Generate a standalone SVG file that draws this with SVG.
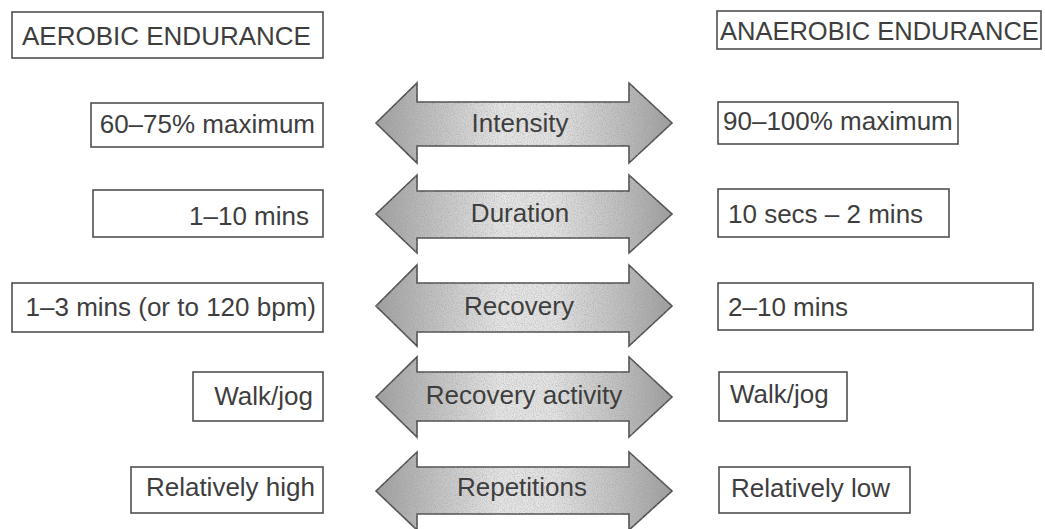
<svg xmlns="http://www.w3.org/2000/svg" width="1045" height="529" viewBox="0 0 1045 529">
<defs>
<style>
.box{fill:#fff;stroke:#505050;stroke-width:1.6}
.t{font-family:"Liberation Sans",Arial,Helvetica,sans-serif;font-size:26px;fill:#3e3e3e}
.h{font-size:26px}
.h2{font-size:25.5px}
.arr{fill:url(#ag);stroke:#4a4a4a;stroke-width:1.6;stroke-linejoin:miter;filter:url(#grain)}
.m{text-anchor:middle}
.e{text-anchor:end}
</style>
<linearGradient id="ag" x1="0" y1="0" x2="1" y2="0">
<stop offset="0" stop-color="#a0a0a0"/>
<stop offset="0.2" stop-color="#c2c2c2"/>
<stop offset="0.42" stop-color="#e6e6e6"/>
<stop offset="0.6" stop-color="#e4e4e4"/>
<stop offset="0.82" stop-color="#c0c0c0"/>
<stop offset="1" stop-color="#9e9e9e"/>
</linearGradient>
<filter id="grain" x="-0.02" y="-0.05" width="1.04" height="1.1">
<feTurbulence type="fractalNoise" baseFrequency="0.9" numOctaves="2" seed="4" result="n"/>
<feColorMatrix in="n" type="matrix" values="0 0 0 0 0.3  0 0 0 0 0.3  0 0 0 0 0.3  1.1 0 0 0 -0.42" result="dots"/>
<feComposite in="dots" in2="SourceGraphic" operator="in" result="d2"/>
<feMerge><feMergeNode in="SourceGraphic"/><feMergeNode in="d2"/></feMerge>
</filter>
</defs>

<g id="connectors">
<path class="arr" d="M376,123 L417,83 L417,102 L629,102 L629,83 L672,123 L629,163 L629,146 L417,146 L417,163 Z"/>
<path class="arr" d="M376,214 L417,175 L417,191 L629,191 L629,175 L672,214 L629,253 L629,238 L417,238 L417,253 Z"/>
<path class="arr" d="M376,306 L417,265 L417,283 L629,283 L629,265 L672,306 L629,346 L629,332 L417,332 L417,346 Z"/>
<path class="arr" d="M376,397 L417,357 L417,372 L629,372 L629,357 L672,397 L629,437 L629,421 L417,421 L417,437 Z"/>
<path class="arr" d="M376,491 L417,452 L417,467 L629,467 L629,452 L672,491 L629,530 L629,514 L417,514 L417,530 Z"/>
<text class="t m" x="520" y="132">Intensity</text>
<text class="t m" x="520" y="222">Duration</text>
<text class="t m" x="519" y="315">Recovery</text>
<text class="t m" x="524" y="404">Recovery activity</text>
<text class="t m" x="522" y="496">Repetitions</text>
</g>

<g id="aerobic-header">
<rect class="box" x="12" y="12" width="311" height="46"/>
<text class="t h" x="22" y="45">AEROBIC ENDURANCE</text>
</g>
<g id="anaerobic-header">
<rect class="box" x="717" y="11" width="324" height="38"/>
<text class="t h2" x="720" y="40">ANAEROBIC ENDURANCE</text>
</g>

<g id="aer-intensity">
<rect class="box" x="91" y="103" width="232" height="44"/>
<text class="t e" x="315" y="133">60–75% maximum</text>
</g>
<g id="aer-duration">
<rect class="box" x="93" y="190" width="230" height="47"/>
<text class="t e" x="309" y="225">1–10 mins</text>
</g>
<g id="aer-recovery">
<rect class="box" x="12" y="283" width="311" height="49"/>
<text class="t e" x="316" y="316">1–3 mins (or to 120 bpm)</text>
</g>
<g id="aer-activity">
<rect class="box" x="193" y="372" width="130" height="49"/>
<text class="t e" x="313" y="405">Walk/jog</text>
</g>
<g id="aer-reps">
<rect class="box" x="131" y="467" width="192" height="46"/>
<text class="t e" x="315" y="496">Relatively high</text>
</g>

<g id="ana-intensity">
<rect class="box" x="718" y="102" width="240" height="42"/>
<text class="t" x="723" y="130">90–100% maximum</text>
</g>
<g id="ana-duration">
<rect class="box" x="718" y="189" width="231" height="48"/>
<text class="t" x="728" y="223">10 secs – 2 mins</text>
</g>
<g id="ana-recovery">
<rect class="box" x="718" y="283" width="315" height="47"/>
<text class="t" x="728" y="316">2–10 mins</text>
</g>
<g id="ana-activity">
<rect class="box" x="719" y="372" width="128" height="49"/>
<text class="t" x="730" y="403">Walk/jog</text>
</g>
<g id="ana-reps">
<rect class="box" x="719" y="467" width="191" height="46"/>
<text class="t" x="731" y="497">Relatively low</text>
</g>
</svg>
